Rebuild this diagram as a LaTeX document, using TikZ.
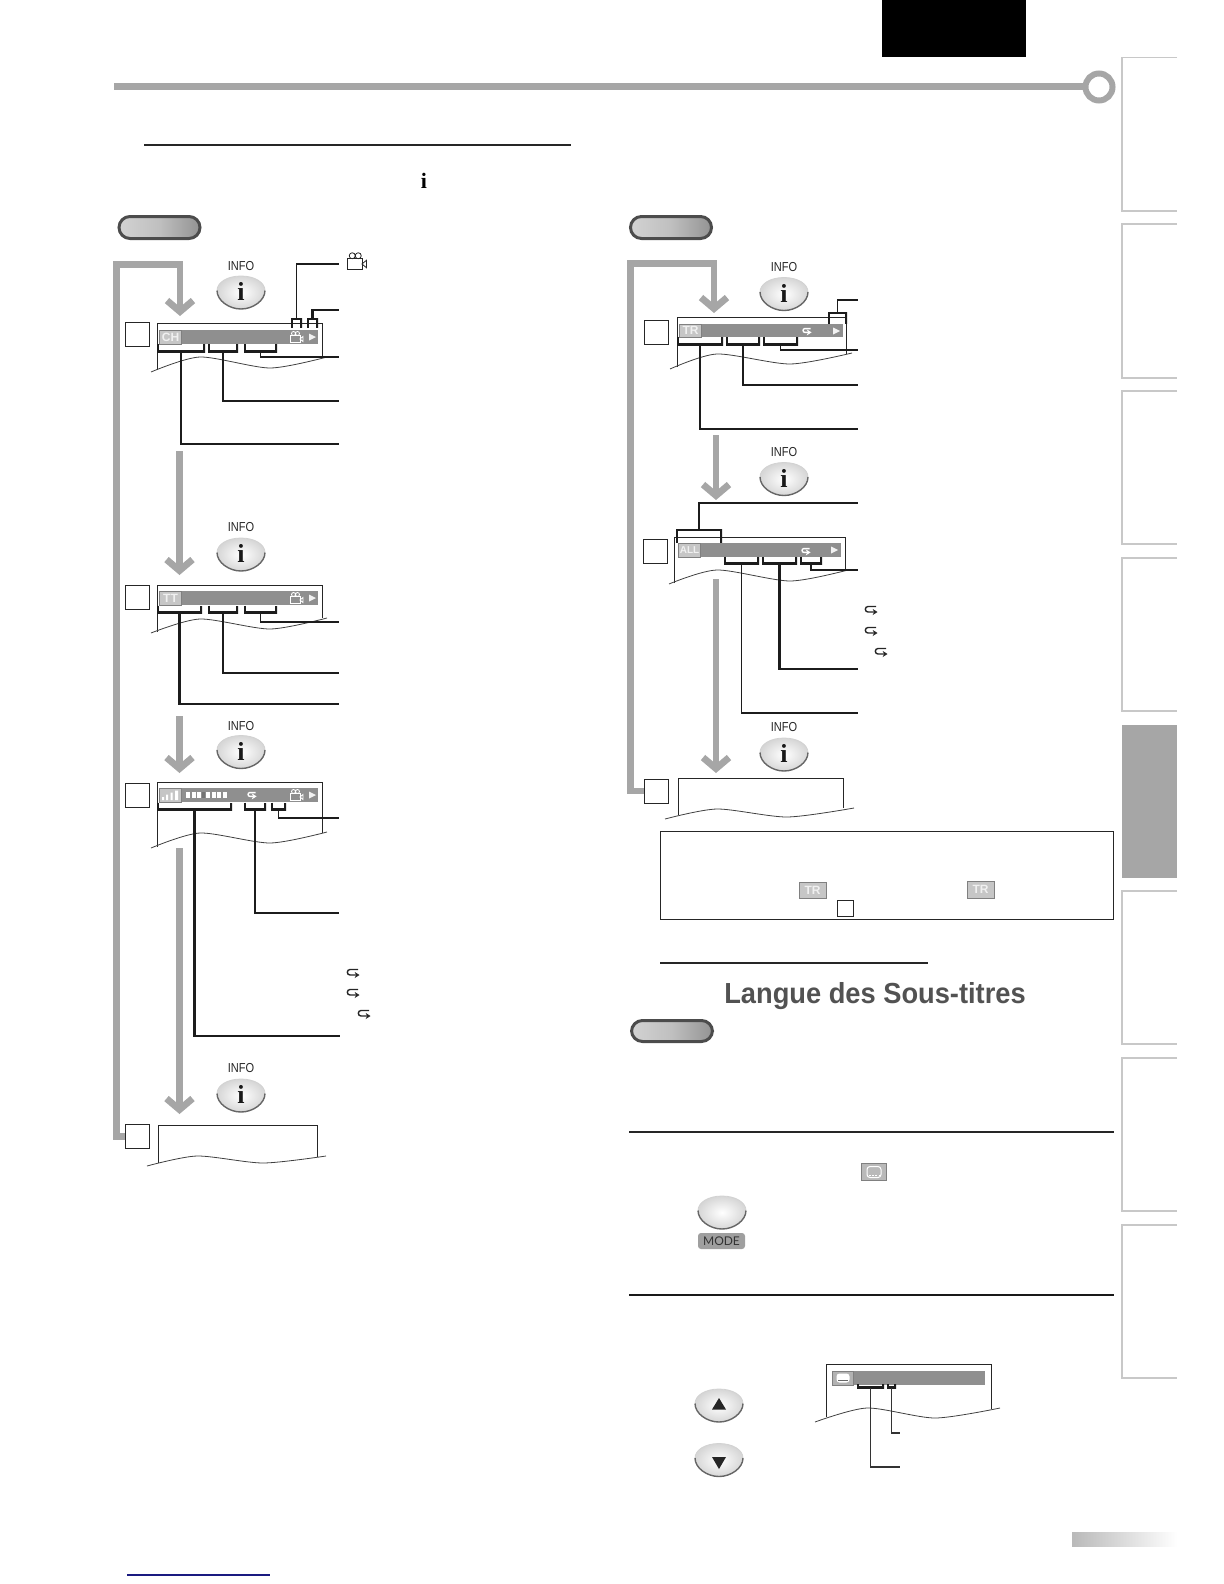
\documentclass[tikz,border=0pt]{standalone}
\usepackage{fontspec}
\setmainfont{Liberation Sans}
\newfontfamily\ifont{Liberation Serif}
\newfontfamily\infofont[FakeStretch=0.85]{Liberation Sans}
\newfontfamily\blurfont[FakeStretch=0.94]{Liberation Sans}
\newfontfamily\modefont{Lato}
\usetikzlibrary{arrows.meta,positioning,calc}
\usepackage{xcolor}
\definecolor{barcol}{HTML}{8F8F8F}
\definecolor{routecol}{HTML}{A6A6A6}
\definecolor{badgecol}{HTML}{C6C6C6}
\definecolor{tabcol}{HTML}{C8C8C8}
\definecolor{leadcol}{HTML}{1C1C1C}
\definecolor{linkcol}{HTML}{1A1A80}

\tikzset{
  keybtn/.pic={
    \shade[inner color=white, outer color=gray!32]
      (-24,-2) .. controls (-24,-10) and (-14,-16.5) .. (0,-16.5) .. controls (14,-16.5) and (24,-10) .. (24,-2)
      .. controls (24,8) and (12,16.5) .. (0,16.5) .. controls (-12,16.5) and (-24,8) .. (-24,-2) -- cycle;
    \draw[gray!35, line width=.4pt] (-24,-2) .. controls (-24,-10) and (-14,-16.5) .. (0,-16.5) .. controls (14,-16.5) and (24,-10) .. (24,-2);
    \draw[black!60, line width=.7pt] (24,-2) .. controls (24,8) and (12,16.5) .. (0,16.5) .. controls (-12,16.5) and (-24,8) .. (-24,-2);
  },
  infobtn/.pic={
    \pic {keybtn};
    \node[font=\ifont\bfseries\fontsize{13}{13}\selectfont, inner sep=0, text=black!90] (-i) at (0,-1) {i};
  },
  upbtn/.pic={
    \pic {keybtn};
    \fill[black!85] (0,-7.5) -- (7,4) -- (-7,4) -- cycle;
  },
  downbtn/.pic={
    \pic {keybtn};
    \fill[black!85] (0,9) -- (7,-3) -- (-7,-3) -- cycle;
  },
  camicon/.pic={
    \draw[pic actions, line width=.4pt] (-5.5,-1.5) rectangle (4,5.5);
    \draw[pic actions, line width=.4pt] (-2.5,-3.5) circle[radius=2] (1.5,-3.5) circle[radius=2];
    \draw[pic actions, line width=.4pt] (4,2) -- (7,-.5) -- (7,4.5) -- cycle;
  },
  repeaticon/.pic={
    \draw[pic actions, line width=.7pt, -{Stealth[length=2.4pt,width=3pt]}] (5,-3.5) -- (-3,-3.5) .. controls (-6.5,-3.5) and (-6.5,2) .. (-3,2) -- (6.5,2);
  },
  playtri/.pic={
    \fill[white!90!gray] (-3,-3.5) -- (4,0) -- (-3,3.5) -- cycle;
  }
}

\begin{document}
\begin{tikzpicture}[
  x=0.5pt, y=-0.5pt,
  font=\fontsize{6.5}{7}\selectfont,
  stepbox/.style={draw=black!85, line width=.5pt, minimum size=12pt, inner sep=0, fill=white},
  pill/.style={draw=black!70, line width=1.5pt, rounded corners=5.5pt, left color=gray!35, right color=gray!85, middle color=gray!50, minimum width=40.5pt, minimum height=11pt, inner sep=0},
  bar/.style={fill=barcol, minimum height=7pt, inner sep=0, outer sep=0},
  badge/.style={fill=badgecol, draw=gray, line width=.4pt, minimum width=11pt, minimum height=7pt, inner sep=0, text=white!88!gray, font=\fontsize{6}{6}\selectfont\bfseries},
  brk/.style={inner sep=0, outer sep=0, minimum height=4pt, path picture={\draw[leadcol, line width=2.2pt] (path picture bounding box.north west) -- (path picture bounding box.south west) -- (path picture bounding box.south east) -- (path picture bounding box.north east);}},
  brkup/.style={inner sep=0, outer sep=0, minimum height=5pt, path picture={\draw[leadcol, line width=2.2pt] (path picture bounding box.south west) -- (path picture bounding box.north west) -- (path picture bounding box.north east) -- (path picture bounding box.south east);}},
  lead/.style={draw=leadcol, line width=.85pt},
  leadb/.style={draw=leadcol, line width=1.2pt},
  flow/.style={draw=routecol, line width=3.4pt},
  flowtip/.style={flow, -{Straight Barb[length=5.5pt,width=13pt]}},
  scr/.style={draw=black!85, line width=.5pt},
  wave/.style={draw=black!75, line width=.4pt},
  tabline/.style={draw=tabcol, line width=.7pt},
  lab/.style={font=\infofont\fontsize{6.5}{7}\selectfont, inner sep=0, text=black!85},
  rulethin/.style={draw=black!85, line width=.6pt}
]
\useasboundingbox (0,0) rectangle (1224,1584);

\fill[black] (882,0) rectangle (1026,57);
\fill[routecol] (114,83) rectangle (1086,90);
\draw[routecol, line width=3pt] (1099,87) circle[radius=13.5];

\draw[tabline] (1177,57.5) -- (1122,57.5) -- (1122,211) -- (1177,211);
\draw[tabline] (1177,224) -- (1122,224) -- (1122,378) -- (1177,378);
\draw[tabline] (1177,391) -- (1122,391) -- (1122,544) -- (1177,544);
\draw[tabline] (1177,558) -- (1122,558) -- (1122,711) -- (1177,711);
\fill[routecol] (1122,725) rectangle (1177,878);
\draw[tabline] (1177,891) -- (1122,891) -- (1122,1044) -- (1177,1044);
\draw[tabline] (1177,1058) -- (1122,1058) -- (1122,1211) -- (1177,1211);
\draw[tabline] (1177,1225) -- (1122,1225) -- (1122,1378) -- (1177,1378);
\shade[left color=gray!55, right color=white] (1072,1532) rectangle (1177,1546);
\draw[linkcol, line width=.6pt] (127,1575) -- (270,1575);

\draw[line width=1pt, black!85] (144,145) -- (571,145);
\node[font=\ifont\bfseries\fontsize{11}{11}\selectfont, inner sep=0] (itop) at (424,181) {i};

% left column
\node[pill] (pl) at (159.5,227.5) {};
\node[stepbox] (s1) at (137.5,334.5) {};
\node[stepbox] (s2) at (137,597) {};
\node[stepbox] (s3) at (137.5,795) {};
\node[stepbox] (s4) at (137,1136.5) {};

\coordinate (lc) at (116.5,264.5);
\coordinate (t1) at (180,316);
\coordinate (f2a) at (179.5,451);
\coordinate (t2) at (179.5,575);
\coordinate (f3a) at (179.5,716);
\coordinate (t3) at (179.5,773);
\coordinate (f4a) at (179.5,848);
\coordinate (t4) at (179.5,1114);
\draw[flowtip] (s4.west) -| (lc) -| (t1);
\draw[flowtip] (f2a) -- (t2);
\draw[flowtip] (f3a) -- (t3);
\draw[flowtip] (f4a) -- (t4);

\node[lab] (il1) at (241,266) {INFO};
\node[lab] (il2) at (241,527) {INFO};
\node[lab] (il3) at (241,726) {INFO};
\node[lab] (il4) at (241,1068) {INFO};
\pic (ib1) at (241,292.5) {infobtn};
\pic (ib2) at (241,554.5) {infobtn};
\pic (ib3) at (241,752) {infobtn};
\pic (ib4) at (241,1095.5) {infobtn};

% screen 1
\draw[scr] (157,370) |- (322,323) -- (322,357);
\draw[wave] plot[smooth, tension=.45] coordinates {(151,372) (200,357) (270,368) (327,357)};
\node[bar, minimum width=79.5pt] (b1) at (238.5,337) {};
\node[badge] (bd1) at (170.5,337) {CH};
\pic[draw=white] (cam1) at (296,337) {camicon};
\pic (pt1) at (312,337) {playtri};
\node[brk, minimum width=24pt] (k1a) at (181,348) {};
\node[brk, minimum width=15pt] (k1b) at (223,348) {};
\node[brk, minimum width=16.5pt] (k1c) at (260.5,348) {};
\node[brkup, minimum width=5.5pt] (k1d) at (296.5,323) {};
\node[brkup, minimum width=5.5pt] (k1e) at (312.5,323) {};
\coordinate (e1a) at (339,444);
\coordinate (e1b) at (339,401);
\coordinate (e1c) at (339,357);
\coordinate (e1d) at (339,264);
\coordinate (e1e) at (339,310);
\draw[lead] (k1a.south) |- (e1a);
\draw[lead] (k1b.south) |- (e1b);
\draw[lead] (k1c.south) |- (e1c);
\draw[lead] (k1d.north) |- (e1d);
\draw[leadb] (k1e.north) |- (e1e);
\pic[draw=black!85, scale=1.5] (cam0) at (356,261) {camicon};

% screen 2
\draw[scr] (157,632) |- (322,585) -- (322,618);
\draw[wave] plot[smooth, tension=.45] coordinates {(151,633) (200,619) (270,629) (327,618)};
\node[bar, minimum width=79.5pt] (b2) at (238.5,598) {};
\node[badge] (bd2) at (170.5,598) {TT};
\pic[draw=white] (cam2) at (296,598) {camicon};
\pic (pt2) at (312,598) {playtri};
\node[brk, minimum width=22.5pt] (k2a) at (179.5,609.5) {};
\node[brk, minimum width=15pt] (k2b) at (223,609.5) {};
\node[brk, minimum width=16.5pt] (k2c) at (260.5,609.5) {};
\coordinate (e2a) at (339,704);
\coordinate (e2b) at (339,673);
\coordinate (e2c) at (339,622);
\draw[leadb] (k2a.south) |- (e2a);
\draw[lead] (k2b.south) |- (e2b);
\draw[lead] (k2c.south) |- (e2c);

% screen 3
\draw[scr] (157,847) |- (322,782) -- (322,833);
\draw[wave] plot[smooth, tension=.45] coordinates {(151,848) (200,833) (270,843) (327,832)};
\node[bar, minimum width=79.5pt] (b3) at (238.5,795) {};
\node[badge] (bd3) at (170.5,795) {};
\fill[white] (162,797) rectangle (164,800) (166,794.5) rectangle (168,800) (170.5,792.5) rectangle (172.5,800) (175,790.5) rectangle (178,800);
\draw[white, line width=3pt, dash pattern=on 2pt off .75pt] (186,795) -- (202,795);
\fill[black!55] (202,792) rectangle (205,798);
\draw[white, line width=3pt, dash pattern=on 2pt off .75pt] (206,795) -- (227,795);
\pic[draw=white, scale=.7] (rp3) at (252,795) {repeaticon};
\pic[draw=white] (cam3) at (296,795) {camicon};
\pic (pt3) at (312,795) {playtri};
\node[brk, minimum width=37.5pt] (k3a) at (194.5,806.5) {};
\node[brk, minimum width=11pt] (k3b) at (255,806.5) {};
\node[brk, minimum width=7.5pt] (k3c) at (278.5,806.5) {};
\coordinate (e3a) at (340,1036);
\coordinate (e3b) at (339,913);
\coordinate (e3c) at (339,818);
\draw[leadb] (k3a.south) |- (e3a);
\draw[lead] (k3b.south) |- (e3b);
\draw[lead] (k3c.south) |- (e3c);
\pic[draw=black!85] (rp3a) at (353,973) {repeaticon};
\pic[draw=black!85] (rp3b) at (353,993) {repeaticon};
\pic[draw=black!85] (rp3c) at (364,1014) {repeaticon};

% screen 4
\draw[scr] (158,1163) |- (317,1125) -- (317,1157);
\draw[wave] plot[smooth, tension=.45] coordinates {(147,1166) (197,1156) (263,1163) (326,1156)};

% right column
\node[pill] (pr) at (671,227.5) {};
\node[stepbox] (r1) at (656,332) {};
\node[stepbox] (r2) at (655,551) {};
\node[stepbox] (r3) at (656,791) {};

\coordinate (rc) at (630.5,263.5);
\coordinate (u1) at (714,313);
\coordinate (g2a) at (716,435);
\coordinate (u2) at (716,500);
\coordinate (g3a) at (716,579);
\coordinate (u3) at (716,773);
\draw[flowtip] (r3.west) -| (rc) -| (u1);
\draw[flowtip] (g2a) -- (u2);
\draw[flowtip] (g3a) -- (u3);

\node[lab] (jl1) at (784,267) {INFO};
\node[lab] (jl2) at (784,452) {INFO};
\node[lab] (jl3) at (784,727) {INFO};
\pic (jb1) at (784,294) {infobtn};
\pic (jb2) at (784,479) {infobtn};
\pic (jb3) at (784,754.5) {infobtn};

\draw[scr] (677,367) |- (846,317) -- (846,354);
\draw[wave] plot[smooth, tension=.45] coordinates {(670,369) (717,354) (790,364) (852,353)};
\node[bar, minimum width=82pt, minimum height=6.5pt] (c1) at (761,330.5) {};
\node[badge, minimum height=6.5pt] (cd1) at (690.5,330.5) {TR};
\pic[draw=white, scale=.7] (rq1) at (807,331) {repeaticon};
\pic (qt1) at (836,331) {playtri};
\node[brk, minimum width=23pt] (m1a) at (700,341) {};
\node[brk, minimum width=17pt] (m1b) at (743,341) {};
\node[brk, minimum width=17.5pt] (m1c) at (780.5,341) {};
\node[brkup, minimum width=9.5pt, minimum height=6pt] (m1d) at (837.5,318) {};
\coordinate (n1a) at (858,429);
\coordinate (n1b) at (858,385);
\coordinate (n1c) at (858,350);
\coordinate (n1d) at (858,300);
\draw[leadb] (m1a.south) |- (n1a);
\draw[lead] (m1b.south) |- (n1b);
\draw[lead] (m1c.south) |- (n1c);
\draw[lead] (m1d.north) |- (n1d);

\draw[scr] (674,583) |- (845,537) -- (845,570);
\draw[wave] plot[smooth, tension=.45] coordinates {(669,584) (717,570) (790,581) (848,570)};
\node[bar, minimum width=81.5pt] (c2) at (759.5,550) {};
\node[badge, font=\fontsize{5}{5}\selectfont\bfseries] (cd2) at (689.5,550) {ALL};
\pic[draw=white, scale=.7] (rq2) at (806,551) {repeaticon};
\pic (qt2) at (834,550) {playtri};
\node[brk, minimum width=17.5pt] (m2a) at (741.5,560.5) {};
\node[brk, minimum width=17.5pt] (m2b) at (779.5,560.5) {};
\node[brk, minimum width=11pt] (m2c) at (811,560.5) {};
\node[brkup, minimum width=23pt, minimum height=7pt] (m2d) at (699,536) {};
\coordinate (n2a) at (858,713);
\coordinate (n2b) at (858,669);
\coordinate (n2c) at (858,570);
\coordinate (n2d) at (858,503);
\draw[lead] (m2a.south) |- (n2a);
\draw[leadb] (m2b.south) |- (n2b);
\draw[lead] (m2c.south) |- (n2c);
\draw[lead] (m2d.north) |- (n2d);
\pic[draw=black!85] (rq2a) at (871,610) {repeaticon};
\pic[draw=black!85] (rq2b) at (871,631) {repeaticon};
\pic[draw=black!85] (rq2c) at (881,652) {repeaticon};

\draw[scr] (678,815) |- (843,778) -- (843,808);
\draw[wave] plot[smooth, tension=.45] coordinates {(665,819) (717,809) (787,817) (854,808)};

% note box and subtitle part
\node[draw=black!85, line width=.45pt, minimum width=226.5pt, minimum height=44pt, inner sep=0] (note) at (886.5,875) {};
\node[badge, minimum width=13.5pt, minimum height=8pt] (nb1) at (812.5,890) {TR};
\node[badge, minimum width=13.5pt, minimum height=8.5pt] (nb2) at (980.5,889.5) {TR};
\node[stepbox, minimum size=8pt] (ns) at (845,908.5) {};
\draw[rulethin] (660,963) -- (928,963);
\node[font=\blurfont\fontsize{14.5}{15}\selectfont\bfseries, text=black!68, inner sep=0] (st) at (875,996) {Langue des Sous-titres};
\node[pill, minimum height=10.5pt] (ps) at (672,1031) {};
\draw[rulethin] (629,1132) -- (1114,1132);
\draw[black!90, line width=1pt] (629,1295) -- (1114,1295);

\node[badge, fill=gray!55, minimum width=12.5pt, minimum height=8.5pt] (sb1) at (874,1172) {};
\node[draw=white, fill=gray!55, line width=.5pt, rounded corners=1.5pt, minimum width=7pt, minimum height=5.5pt, inner sep=0] (sb1i) at (874,1172) {};
\draw[white, line width=.4pt, dash pattern=on 1pt off .6pt] (869,1175) -- (879,1175);
\pic (mb) at (722,1212.5) {keybtn};
\node[fill=gray!75, rounded corners=1.5pt, minimum width=23.5pt, minimum height=8pt, inner sep=0, text=black!80, font=\modefont\fontsize{6}{6}\selectfont] (md) at (721.5,1241) {MODE};
\pic (ub) at (719,1405.5) {upbtn};
\pic (db) at (719,1460) {downbtn};

\draw[scr] (826,1417) |- (991,1364) -- (991,1409);
\draw[wave] plot[smooth, tension=.45] coordinates {(815,1422) (867,1408) (935,1418) (1000,1408)};
\node[bar, minimum width=76.5pt] (sbar) at (908.5,1378) {};
\node[badge, fill=gray!60, minimum width=10.5pt] (sb2) at (843,1378) {};
\node[fill=white, rounded corners=1.5pt, minimum width=6.5pt, minimum height=4.5pt, inner sep=0] (sb2i) at (843,1378) {};
\draw[black!60, line width=.4pt] (838,1380) -- (848,1380);
\node[brk, minimum width=13.5pt, minimum height=2pt] (q1) at (870.5,1386) {};
\node[brk, minimum width=4.5pt, minimum height=2pt] (q2) at (891.5,1386) {};
\coordinate (w1) at (900,1467);
\coordinate (w2) at (900,1433);
\draw[draw=black!80, line width=.6pt] (q1.south) |- (w1);
\draw[draw=black!80, line width=.6pt] (q2.south) |- (w2);
\end{tikzpicture}
\end{document}
